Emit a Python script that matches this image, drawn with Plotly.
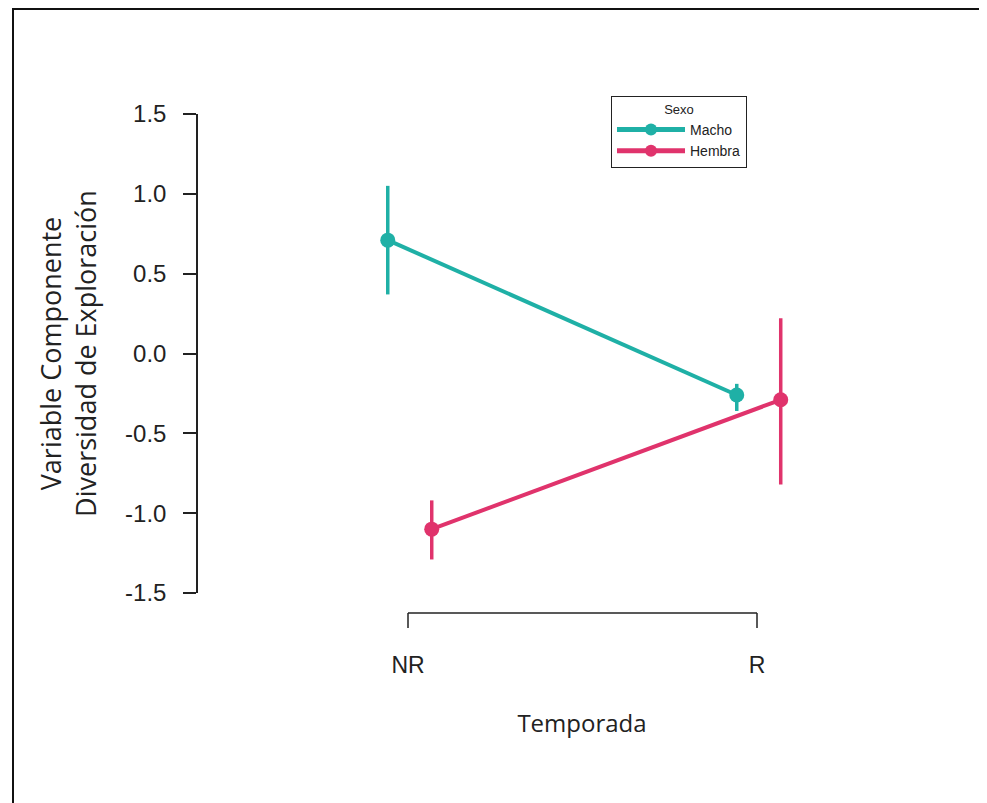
import plotly.graph_objects as go

# ---- data ----
categories = ["NR", "R"]
macho_mean = [0.71, -0.26]
macho_low = [0.37, -0.36]
macho_high = [1.05, -0.19]
hembra_mean = [-1.10, -0.29]
hembra_low = [-1.29, -0.82]
hembra_high = [-0.92, 0.22]
y_ticks = [-1.5, -1.0, -0.5, 0.0, 0.5, 1.0, 1.5]

TEAL = "#1fb0a6"
PINK = "#e0336c"

idx = list(range(len(categories)))
dodge = {"Macho": -0.058, "Hembra": 0.068}

fig = go.Figure()
for name, mean, lo, hi, col in [
    ("Macho", macho_mean, macho_low, macho_high, TEAL),
    ("Hembra", hembra_mean, hembra_low, hembra_high, PINK),
]:
    fig.add_trace(go.Scatter(
        x=[i + dodge[name] for i in idx], y=mean, name=name,
        mode="lines+markers",
        line=dict(color=col, width=4),
        marker=dict(color=col, size=15),
        error_y=dict(type="data", symmetric=False,
                     array=[h - m for h, m in zip(hi, mean)],
                     arrayminus=[m - l for m, l in zip(mean, lo)],
                     color=col, thickness=3.5, width=0),
    ))

OFF = 8  # page body margin
W, H = 987, 803
SL, SR, ST, SB = 198, 966, 114, 593
L = SL - OFF
T = ST - OFF
R = W - (SR - OFF)
B = H - (SB - OFF)
pw = W - L - R
ph = H - T - B
px_per_unit = 349.0
x0 = -(408 - SL) / px_per_unit
x1 = x0 + pw / px_per_unit

def py(pix):
    return (SB - pix) / ph

def pxp(pix):
    return (pix - SL) / pw

shapes = []
yb = py(613)
yt = py(628)
shapes.append(dict(type="line", xref="x", yref="paper", x0=idx[0], x1=idx[-1], y0=yb, y1=yb,
                   line=dict(color="#222", width=1.5)))
for i in idx:
    shapes.append(dict(type="line", xref="x", yref="paper", x0=i, x1=i, y0=yb, y1=yt,
                       line=dict(color="#222", width=1.5)))
shapes.append(dict(type="rect", xref="paper", yref="paper",
                   x0=pxp(13), x1=pxp(1010), y0=py(830), y1=py(9),
                   line=dict(color="#111", width=2)))

fig.update_layout(
    width=W, height=H,
    margin=dict(l=L, r=R, t=T, b=B, autoexpand=False),
    paper_bgcolor="white", plot_bgcolor="white",
    showlegend=True,
    shapes=shapes,
    font=dict(family="Liberation Sans, Arial", color="#222"),
    legend=dict(
        x=pxp(611), y=py(96), xanchor="left", yanchor="top",
        bordercolor="#222", borderwidth=1, bgcolor="white",
        font=dict(size=14, family="Liberation Sans, Arial"),
        title=dict(text="Sexo", side="top center", font=dict(size=13)),
        tracegroupgap=0, itemsizing="constant",
        itemwidth=68,
    ),
    xaxis=dict(range=[x0, x1], tickmode="array", tickvals=idx, ticktext=categories,
               showline=False, showgrid=False, zeroline=False, ticks="",
               ticklabelstandoff=56,
               tickfont=dict(size=23, family="Liberation Sans, Arial", color="#222"),
               title=dict(text="Temporada", standoff=38,
                          font=dict(size=24, family="Open Sans", color="#222")),
               automargin=False),
    yaxis=dict(range=[-1.5, 1.5], tickmode="array", tickvals=y_ticks,
               ticktext=[f"{v:.1f}" for v in y_ticks],
               showline=True, linecolor="#222", linewidth=1.5,
               ticks="outside", ticklen=13, tickwidth=1.5, tickcolor="#222",
               ticklabelstandoff=12,
               showgrid=False, zeroline=False,
               tickfont=dict(size=24, family="Liberation Sans, Arial", color="#222"),
               title=dict(text="Variable Componente<br>Diversidad de Exploración", standoff=21,
                          font=dict(size=27, family="Open Sans", color="#222")),
               automargin=False),
)

fig.write_html("out.html")
